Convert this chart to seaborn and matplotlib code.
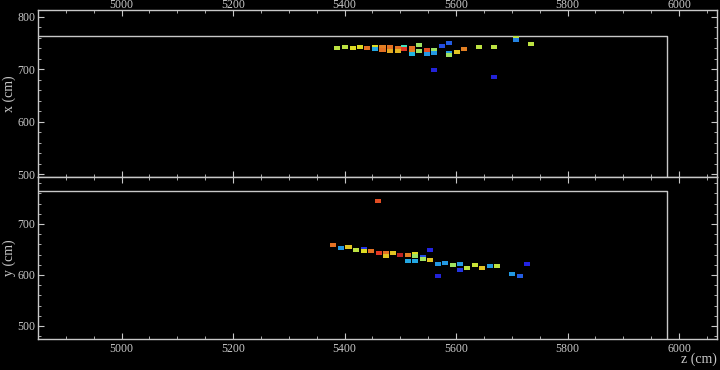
import numpy as np
import pandas as pd
import matplotlib
matplotlib.use("Agg")
import matplotlib.pyplot as plt
from matplotlib.ticker import MultipleLocator
from matplotlib.colors import ListedColormap
import seaborn as sns

# ---------------- data ----------------
# top view: z (cm), x (cm), colour value (0..1 on jet scale)
top_z = [5387, 5401, 5415, 5428, 5441, 5455, 5455, 5468, 5468, 5482, 5482,
         5495, 5495, 5507, 5507, 5521, 5521, 5521, 5534, 5534, 5547, 5547,
         5561, 5561, 5561, 5575, 5588, 5588, 5588, 5601, 5615, 5641, 5668,
         5668, 5708, 5708, 5734]
top_x = [741, 741.5, 741, 741.5, 740, 741.5, 739, 741.5, 737, 741.5, 734,
         741, 735, 742, 739, 740, 733, 728.5, 746, 734, 736.5, 729,
         737, 730, 698, 744, 749, 731, 727.5, 732, 738, 741.5, 741.5,
         685.5, 759, 756, 748]
top_c = [0.60, 0.60, 0.65, 0.65, 0.80, 0.65, 0.30, 0.78, 0.80, 0.80, 0.72,
         0.80, 0.70, 0.40, 0.88, 0.80, 0.78, 0.32, 0.55, 0.55, 0.85, 0.28,
         0.55, 0.28, 0.10, 0.18, 0.20, 0.28, 0.55, 0.68, 0.78, 0.60, 0.60,
         0.10, 0.60, 0.25, 0.60]

# side view: z (cm), y (cm), colour value
bot_z = [5380, 5394, 5407, 5420, 5434, 5434, 5447, 5461, 5474, 5474, 5487,
         5500, 5513, 5513, 5527, 5527, 5527, 5540, 5540, 5553, 5553, 5567,
         5567, 5580, 5594, 5607, 5607, 5620, 5634, 5647, 5660, 5673, 5700,
         5714, 5727, 5460]
bot_y = [658, 653.5, 655.5, 649.5, 650.5, 646.5, 646.5, 643.5, 642.5, 638, 643,
         638.5, 639, 627, 641, 637, 627, 634.5, 631, 649, 629.5, 621,
         598.5, 623, 619.5, 621, 609, 614.5, 619.5, 614.5, 617, 618, 602.5,
         597.5, 622, 745.5]
bot_c = [0.80, 0.28, 0.68, 0.60, 0.15, 0.65, 0.80, 0.88, 0.80, 0.68, 0.68,
         0.93, 0.78, 0.30, 0.65, 0.55, 0.30, 0.18, 0.55, 0.12, 0.68, 0.28,
         0.10, 0.28, 0.55, 0.28, 0.15, 0.60, 0.62, 0.68, 0.28, 0.60, 0.28,
         0.20, 0.12, 0.85]

# detector boundary
box_zmax = 5978
box_top = 764

xlim = (4850, 6068)
ylim_top = (494.3, 812.8)
ylim_bot = (474.5, 792)

# ---------------- style ----------------
sns.set_theme(style="ticks")
fg = "#c8c8c8"
plt.rcParams.update({
    "font.family": ["Liberation Serif", "DejaVu Serif"],
    "figure.facecolor": "black",
    "axes.facecolor": "black",
    "axes.edgecolor": fg,
    "axes.labelcolor": fg,
    "xtick.color": fg,
    "ytick.color": fg,
    "text.color": fg,
    "axes.linewidth": 1.0,
})

# slightly washed-out jet colour scale
_j = matplotlib.colormaps["jet"](np.linspace(0, 1, 256))[:, :3]
soft_jet = ListedColormap(0.75 * _j + 0.25 * 0.55)

fig = plt.figure(figsize=(7.2, 3.7), dpi=100)
W, H = 720, 370
L, R = 38, 717
ax1 = fig.add_axes([L / W, 1 - 177 / H, (R - L) / W, (177 - 10) / H])
ax2 = fig.add_axes([L / W, 1 - 339 / H, (R - L) / W, (339 - 177) / H])

rect = [(-1, -0.66), (1, -0.66), (1, 0.66), (-1, 0.66), (-1, -0.66)]

df_top = pd.DataFrame({"z": top_z, "v": top_x, "c": top_c})
df_bot = pd.DataFrame({"z": bot_z, "v": bot_y, "c": bot_c})

for ax, df, ylim, lab in [(ax1, df_top, ylim_top, "x (cm)"),
                          (ax2, df_bot, ylim_bot, "y (cm)")]:
    ax.plot([xlim[0], box_zmax, box_zmax], [box_top, box_top, ylim[0]],
            color=fg, lw=1.0, zorder=1)
    sns.scatterplot(data=df, x="z", y="v", hue="c", palette=soft_jet,
                    hue_norm=(0, 1), marker=rect, s=19, linewidth=0,
                    legend=False, ax=ax, zorder=3)
    ax.set_xlim(*xlim)
    ax.set_ylim(*ylim)
    ax.xaxis.set_major_locator(MultipleLocator(200))
    ax.xaxis.set_minor_locator(MultipleLocator(50))
    ax.yaxis.set_major_locator(MultipleLocator(100))
    ax.yaxis.set_minor_locator(MultipleLocator(20))
    ax.tick_params(which="both", direction="in", top=True, right=True,
                   labelsize=8.5, pad=2)
    ax.tick_params(which="major", length=4, width=0.8)
    ax.tick_params(which="minor", length=2, width=0.6)
    ax.set_ylabel(lab, fontsize=10, labelpad=1)
    ax.set_xlabel("")
    for sp in ax.spines.values():
        sp.set_color(fg)

ax1.tick_params(axis="x", labeltop=True, labelbottom=False, pad=-1)
ax2.tick_params(axis="x", labeltop=False, labelbottom=True, pad=3)
ax2.set_xlabel("z (cm)", fontsize=10, loc="right", labelpad=-2)

fig.savefig("out.png", dpi=100, facecolor="black")
